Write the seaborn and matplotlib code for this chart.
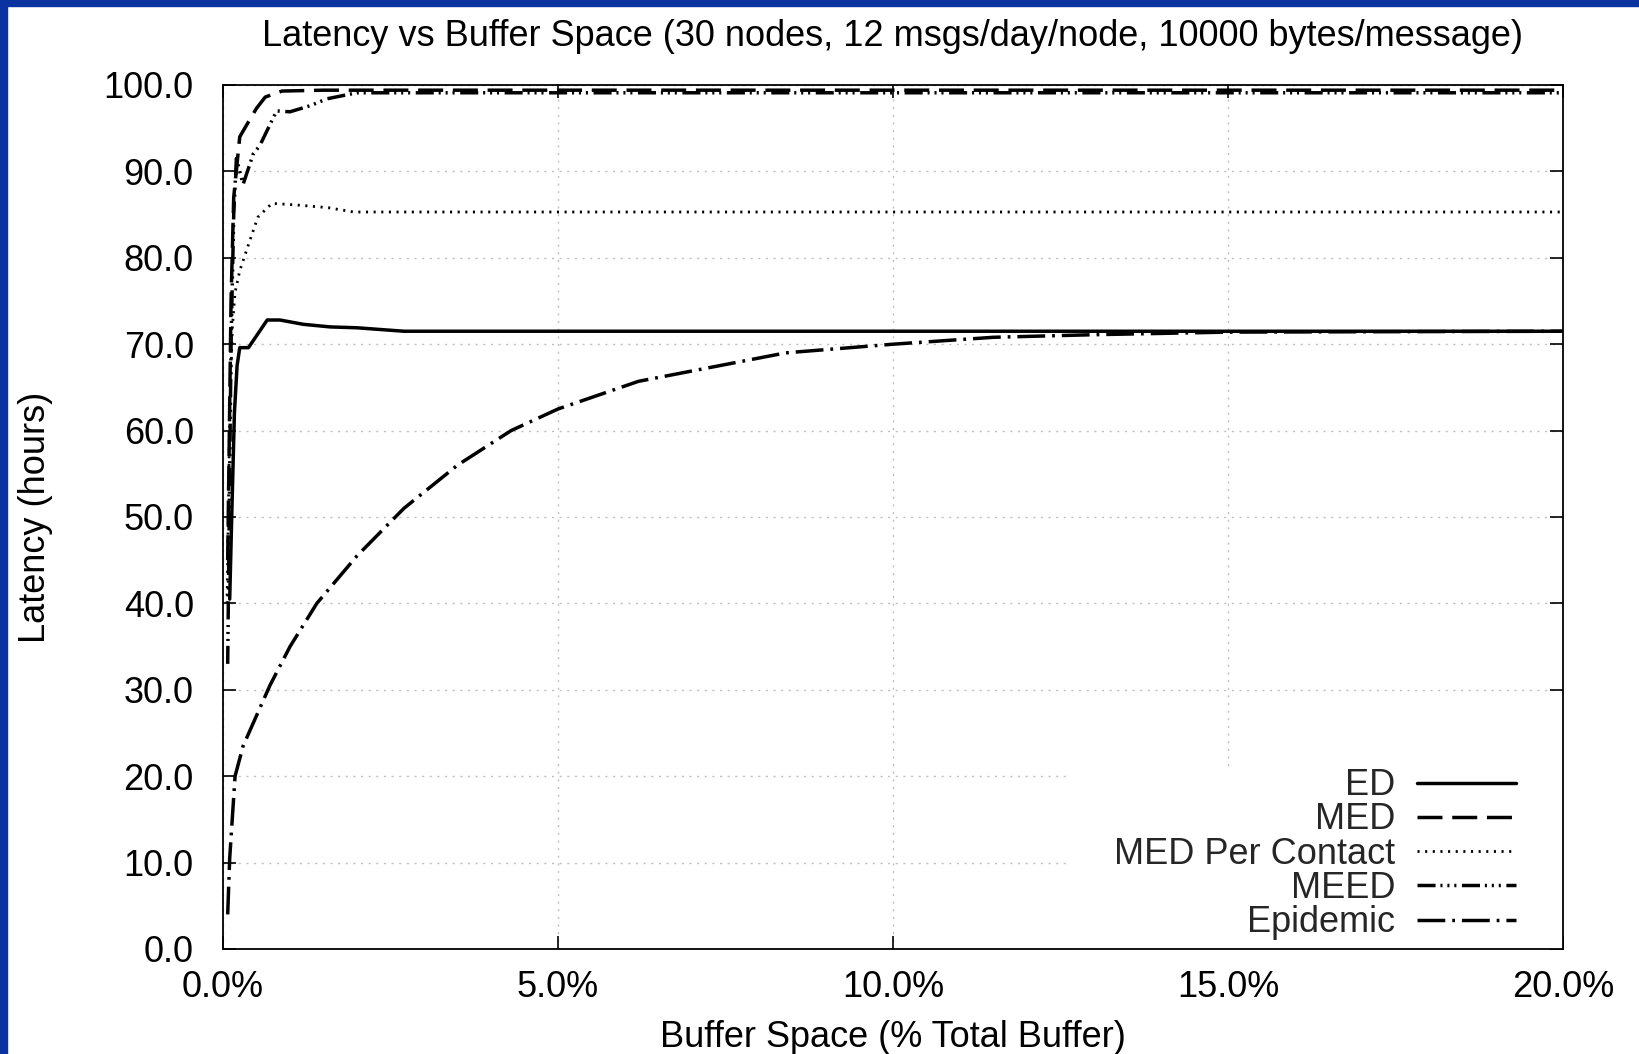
import matplotlib
matplotlib.use("Agg")
import matplotlib.pyplot as plt
import matplotlib.patches as mpatches
from matplotlib.lines import Line2D
import seaborn as sns
import pandas as pd

# ---------------- data ----------------
ed_x = [0.10, 0.13, 0.17, 0.21, 0.25, 0.38, 0.66, 0.85, 1.2, 1.6, 2.0, 2.7, 5.0, 10.0, 15.0, 20.0]
ed_y = [40.5, 50.0, 62.0, 67.5, 69.6, 69.6, 72.8, 72.8, 72.3, 72.0, 71.9, 71.5, 71.5, 71.5, 71.5, 71.5]

med_x = [0.07, 0.12, 0.16, 0.22, 0.25, 0.37, 0.50, 0.63, 0.88, 1.5, 5.0, 10.0, 15.0, 20.0]
med_y = [45.0, 75.0, 87.0, 91.7, 94.0, 95.6, 97.3, 98.6, 99.3, 99.4, 99.4, 99.4, 99.4, 99.4]

mpc_x = [0.06, 0.10, 0.14, 0.18, 0.25, 0.37, 0.52, 0.73, 1.12, 1.57, 1.95, 5.0, 10.0, 15.0, 20.0]
mpc_y = [40.0, 62.0, 72.0, 76.0, 78.5, 81.3, 84.7, 86.3, 86.1, 85.8, 85.3, 85.3, 85.3, 85.3, 85.3]

meed_x = [0.07, 0.12, 0.16, 0.20, 0.30, 0.45, 0.55, 0.80, 1.0, 1.3, 1.55, 2.0, 5.0, 10.0, 15.0, 20.0]
meed_y = [33.0, 70.0, 85.0, 91.5, 88.5, 92.0, 93.0, 97.0, 96.9, 97.6, 98.4, 99.1, 99.1, 99.1, 99.1, 99.1]

epi_x = [0.07, 0.10, 0.18, 0.30, 0.50, 0.70, 1.0, 1.4, 2.0, 2.7, 3.5, 4.3, 5.0, 6.2, 7.2, 8.4, 10.0, 11.5, 13.0, 15.0, 20.0]
epi_y = [4.0, 10.5, 20.0, 23.5, 27.0, 30.5, 35.0, 40.0, 45.5, 51.0, 56.0, 60.0, 62.5, 65.7, 67.2, 69.0, 70.0, 70.8, 71.1, 71.4, 71.5]

series_names = ["ED", "MED", "MED Per Contact", "MEED", "Epidemic"]
x_ticks = [0, 5, 10, 15, 20]
y_ticks = [0, 10, 20, 30, 40, 50, 60, 70, 80, 90, 100]

# ---------------- style ----------------
sns.set_theme(style="white")
plt.rcParams["font.family"] = ["Liberation Sans", "DejaVu Sans"]
plt.rcParams["lines.scale_dashes"] = False

FS = 26

fig = plt.figure(figsize=(16.39, 10.54), dpi=100)
ax = fig.add_axes([223 / 1639, 1 - 949 / 1054, 1340 / 1639, 864 / 1054])

series = {
    "ED": (ed_x, ed_y, "-", 2.5),
    "MED": (med_x, med_y, (0, (18, 7)), 2.5),
    "MED Per Contact": (mpc_x, mpc_y, (0, (1.5, 4.0)), 2.0),
    "MEED": (meed_x, meed_y, (0, (13, 3.5, 1.5, 3.5, 1.5, 3.5, 1.5, 4)), 2.5),
    "Epidemic": (epi_x, epi_y, (0, (20, 5, 2, 5)), 2.5),
}

handles = []
for name in series_names:
    xs, ys, ls, lw = series[name]
    df = pd.DataFrame({"x": xs, "y": ys})
    sns.lineplot(data=df, x="x", y="y", ax=ax, color="black", linestyle=ls,
                 linewidth=lw, estimator=None, sort=False, legend=False, zorder=3)
    handles.append(Line2D([], [], color="black", linestyle=ls, linewidth=lw, label=name))

ax.set_xlim(0, 20)
ax.set_ylim(0, 100)
ax.set_xticks(x_ticks)
ax.set_yticks(y_ticks)
ax.set_xticklabels([f"{v:.1f}%" for v in x_ticks])
ax.set_yticklabels([f"{v:.1f}" for v in y_ticks])
ax.grid(True, color="#c0c0c0", linestyle=(0, (1.5, 4)), linewidth=1.0)
ax.set_axisbelow(True)

for sp in ax.spines.values():
    sp.set_color("black")
    sp.set_linewidth(1.3)

ax.tick_params(axis="both", which="major", direction="in", length=9.5, width=1.2,
               color="black", labelsize=FS, labelcolor="black",
               top=True, right=True, bottom=True, left=True)
ax.tick_params(axis="y", pad=21)
ax.tick_params(axis="x", pad=15)

ax.set_title("Latency vs Buffer Space (30 nodes, 12 msgs/day/node, 10000 bytes/message)",
             fontsize=FS, pad=28, color="black")
ax.set_xlabel("Buffer Space (% Total Buffer)", fontsize=FS, color="black")
ax.set_ylabel("Latency (hours)", fontsize=FS, color="black")
ax.xaxis.set_label_coords(0.5, -0.082)
ax.yaxis.set_label_coords(-0.127, 0.5)

# white key area that hides the grid behind the legend
ax.add_patch(mpatches.Rectangle((0.630, 0.0), 0.370, 0.209, transform=ax.transAxes,
                                facecolor="white", edgecolor="none", zorder=0.8))

leg = ax.legend(handles=handles, loc="lower right", bbox_to_anchor=(0.973, -0.0025),
                fontsize=FS, markerfirst=False, frameon=False,
                handlelength=2.75, handletextpad=0.6, labelspacing=-0.02,
                borderaxespad=0.0, borderpad=0.3)

# blue frame on the left and top of the picture
fig.patches.append(mpatches.Rectangle((0, 0), 7 / 1639, 1, transform=fig.transFigure,
                                      color="#0a33a0", zorder=10))
fig.patches.append(mpatches.Rectangle((0, 1 - 6 / 1054), 1, 6 / 1054, transform=fig.transFigure,
                                      color="#0a33a0", zorder=10))

fig.savefig("out.png", dpi=100, facecolor="white")
